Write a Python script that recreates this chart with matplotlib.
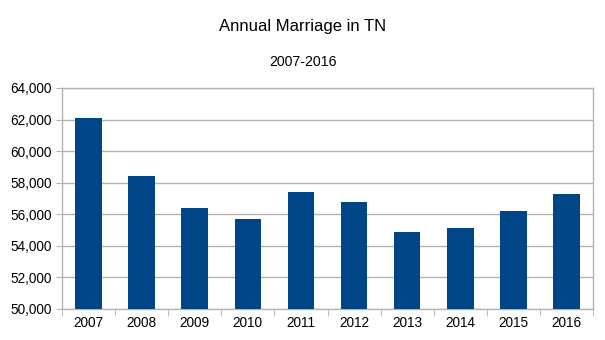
import matplotlib
matplotlib.use("Agg")
import matplotlib.pyplot as plt
import numpy as np
from matplotlib.ticker import FuncFormatter, FixedLocator

years = ["2007", "2008", "2009", "2010", "2011", "2012", "2013", "2014", "2015", "2016"]
marriages = [62100, 58440, 56420, 55720, 57430, 56800, 54850, 55130, 56210, 57280]

plt.rcParams["font.family"] = ["Liberation Sans", "DejaVu Sans"]

fig = plt.figure(figsize=(6.05, 3.4), dpi=100)
ax = fig.add_axes([62 / 605, 31 / 340, 531 / 605, 221 / 340])

x = np.arange(len(years))
ax.bar(x, marriages, width=0.5, color="#004586", zorder=3)

ax.set_xlim(-0.5, len(years) - 0.5)
ax.set_ylim(50000, 64000)
ax.set_yticks(np.arange(50000, 64001, 2000))
ax.yaxis.set_major_formatter(FuncFormatter(lambda v, p: f"{int(v):,}"))
ax.set_xticks(x)
ax.set_xticklabels(years)
ax.xaxis.set_minor_locator(FixedLocator(np.arange(-0.5, len(years), 1.0)))

grid_c = "#b3b3b3"
ax.grid(axis="y", color=grid_c, lw=1, zorder=0)
for s in ax.spines.values():
    s.set_color(grid_c)
    s.set_linewidth(1)
ax.tick_params(axis="x", which="major", length=0, labelsize=9.8, pad=5, colors="black")
ax.tick_params(axis="x", which="minor", length=5, color=grid_c)
ax.tick_params(axis="y", length=4, color=grid_c, labelsize=9.8, pad=3.5, labelcolor="black")

fig.text(0.5, 1 - 27 / 340, "Annual Marriage in TN", ha="center", va="center", fontsize=12)
fig.text(0.5, 1 - 62 / 340, "2007-2016", ha="center", va="center", fontsize=10.2)

fig.savefig("out.png", dpi=100)
